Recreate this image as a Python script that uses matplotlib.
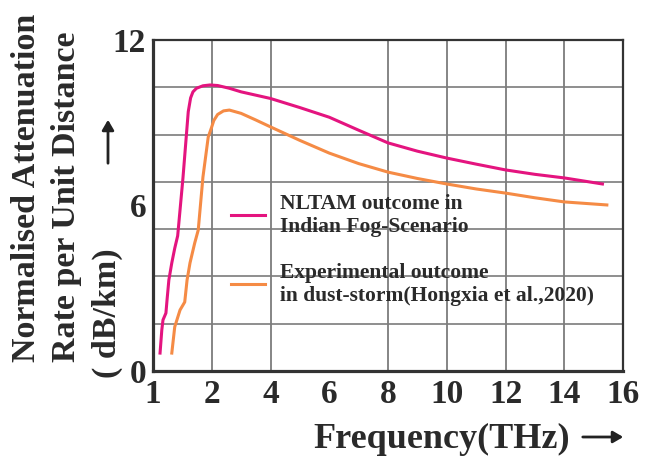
import numpy as np
import matplotlib
matplotlib.use('Agg')
import matplotlib.pyplot as plt

# frequency tick labels (axis is spaced evenly by tick, not linearly)
tick_vals = [1, 2, 4, 6, 8, 10, 12, 14, 16]
tick_pos = np.arange(len(tick_vals))
# vertical grid in the original (none at 6 THz)
xgrid_vals = [2, 4, 8, 10, 12, 14]

# NLTAM outcome, Indian fog scenario
nltam_f = [1.12, 1.15, 1.17, 1.22, 1.24, 1.27, 1.32, 1.37, 1.42, 1.51, 1.60, 1.64, 1.68, 1.74,
           1.85, 1.97, 2.2, 2.6, 3.0, 3.5, 4.0, 5.0, 6.0, 7.0, 8.0, 9.0, 10.0, 11.0, 12.0, 13.0, 14.0, 15.3]
nltam_a = [0.65, 1.49, 1.85, 2.10, 2.6, 3.30, 3.92, 4.45, 4.9, 7.0, 9.4, 9.9, 10.12, 10.25,
           10.34, 10.37, 10.35, 10.25, 10.12, 10.0, 9.88, 9.55, 9.2, 8.73, 8.27, 7.97, 7.72, 7.5, 7.29, 7.13, 7.0, 6.78]

# experimental outcome, dust storm (Hongxia et al., 2020)
exp_f = [1.32, 1.37, 1.46, 1.54, 1.58, 1.63, 1.71, 1.77, 1.85, 1.94, 2.0, 2.07, 2.2, 2.4, 2.6,
         3.0, 3.5, 4.0, 5.0, 6.0, 7.0, 8.0, 9.0, 10.0, 11.0, 12.0, 13.0, 14.0, 15.45]
exp_a = [0.65, 1.6, 2.21, 2.5, 3.3, 3.92, 4.64, 5.11, 7.03, 8.48, 8.85, 9.08, 9.3, 9.43, 9.46,
         9.34, 9.1, 8.85, 8.36, 7.9, 7.52, 7.21, 6.98, 6.78, 6.6, 6.45, 6.28, 6.13, 6.02]

labels = ['NLTAM outcome in\nIndian Fog-Scenario',
          'Experimental outcome\nin dust-storm(Hongxia et al.,2020)']
colors = ['#e4147f', '#f58b45']

serif = ['Liberation Serif', 'DejaVu Serif']
txtc = '#2a2a2a'
gridc = '#7c7c7c'


def fpos(f):
    # frequency -> position on the evenly spaced tick axis
    return np.interp(f, tick_vals, tick_pos)


fig = plt.figure(figsize=(6.52, 4.58), dpi=100)
ax = fig.add_axes([153/652, 1-371/458, 470/652, 331/458])

ax.vlines(fpos(xgrid_vals), 0, 12, colors=gridc, lw=1.3, zorder=1)

ax.plot(fpos(nltam_f), nltam_a, color=colors[0], lw=2.2, label=labels[0], zorder=3)
ax.plot(fpos(exp_f), exp_a, color=colors[1], lw=2.2, label=labels[1], zorder=3)

ax.set_xlim(tick_pos[0], tick_pos[-1])
ax.set_ylim(0, 12)
ax.set_xticks(tick_pos)
ax.set_xticklabels([str(v) for v in tick_vals])
ax.set_yticks([0, 6, 12])
ax.yaxis.remove_overlapping_locs = False
ax.set_yticks([12*k/7 for k in range(1, 7)], minor=True)
ax.grid(which='minor', axis='y', color=gridc, lw=1.2)
ax.set_axisbelow(True)
ax.tick_params(which='both', length=0)
ax.tick_params(axis='x', pad=6)
ax.tick_params(axis='y', pad=5)
for lab in ax.get_xticklabels() + ax.get_yticklabels():
    lab.set_family(serif)
    lab.set_fontweight('bold')
    lab.set_fontsize(24)
    lab.set_color(txtc)

for side in ['left', 'bottom']:
    ax.spines[side].set_linewidth(2.3)
for side in ['top', 'right']:
    ax.spines[side].set_linewidth(1.6)
for s in ax.spines.values():
    s.set_color('#333333')

leg = ax.legend(loc='upper left', bbox_to_anchor=(0.165, 0.535), frameon=False,
                borderpad=0, borderaxespad=0, handlelength=1.6, handletextpad=0.7,
                labelspacing=1.2, prop={'family': serif, 'weight': 'bold', 'size': 15.5})
for t in leg.get_texts():
    t.set_color(txtc)

# y label, three lines plus arrow
ylines = ['Normalised Attenuation', 'Rate per Unit Distance', '( dB/km)']
ybottom = [362, 362, 378]
for i, s in enumerate(ylines):
    fig.text((27 + 40*i)/652, 1-ybottom[i]/458, s, rotation=90, ha='center', va='bottom',
             family=serif, fontweight='bold', fontsize=24.5, color=txtc)
fig.add_artist(matplotlib.patches.FancyArrowPatch((108/652, 1-166/458), (108/652, 1-117/458),
               transform=fig.transFigure, arrowstyle='-|>,head_length=6,head_width=3.5',
               lw=2, color='#222222'))

fig.text(442/652, 1-448/458, 'Frequency(THz)', ha='center', va='baseline',
         family=serif, fontweight='bold', fontsize=26, color=txtc)
fig.add_artist(matplotlib.patches.FancyArrowPatch((580/652, 1-437/458), (626/652, 1-437/458),
               transform=fig.transFigure, arrowstyle='-|>,head_length=6,head_width=3.5',
               lw=2, color='#222222'))

fig.savefig('out.png', dpi=100)
